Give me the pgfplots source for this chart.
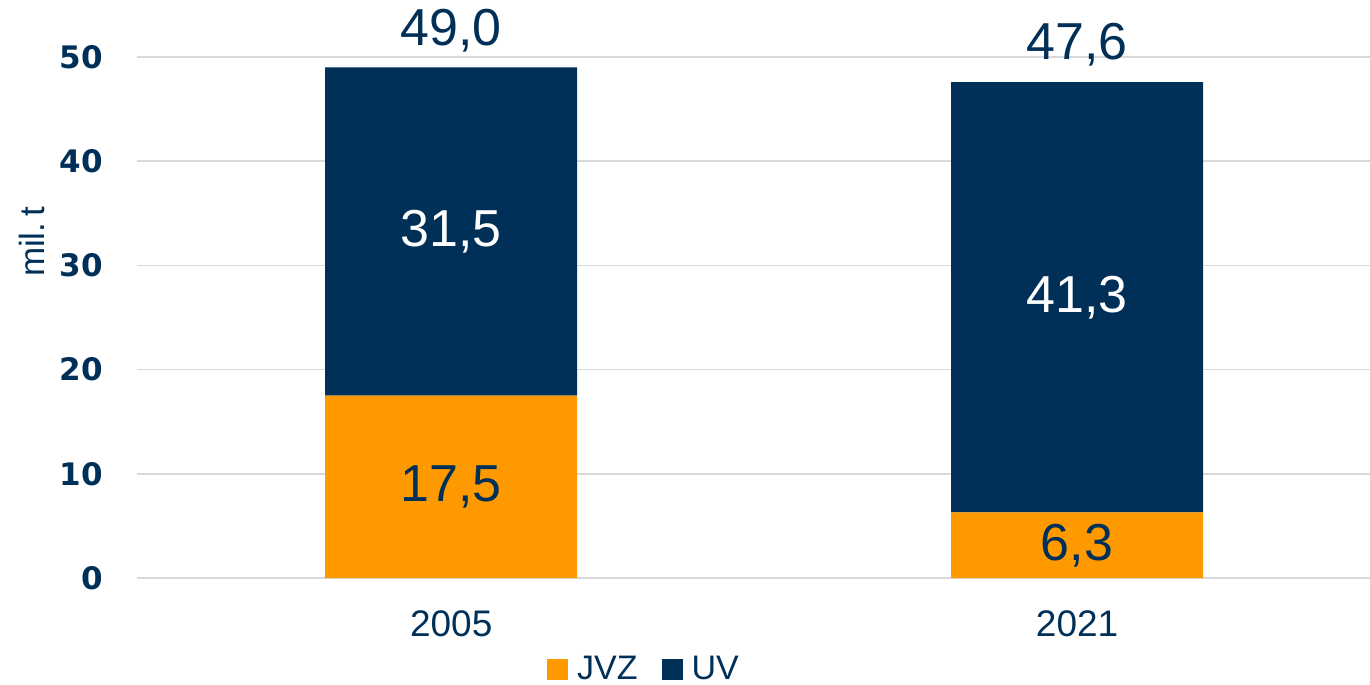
\documentclass[border=0pt]{standalone}
\usepackage{fontspec}
\setmainfont{Liberation Sans}
\newfontfamily\tickfont{DejaVu Sans}
\usepackage{pgfplots}
\pgfplotsset{compat=1.18}
\usepackage{pgfplotstable}
\definecolor{navy}{RGB}{0,48,87}
\definecolor{orng}{RGB}{255,153,0}
\definecolor{gridc}{RGB}{217,217,217}
\pgfplotstableread{
x jvz uv
0 17.5 31.5
1 6.3 41.3
}\data
\pgfplotsset{
 common/.style={
  scale only axis, width=616.5pt, height=260.5pt,
  xmin=-0.502, xmax=1.468, ymin=0, ymax=50,
  at={(0pt,0pt)}, anchor=south west, clip=false,
  /pgf/number format/assume math mode=true,
 },
 sq/.style={legend image code/.code={\fill[##1] (0pt,-5.25pt) rectangle (10.5pt,5.25pt); \path (13pt,0pt);}},
}
\begin{document}
\begin{tikzpicture}
\useasboundingbox (-68.5pt,-53.5pt) rectangle (616.5pt,289pt);
\begin{axis}[common,
  ybar stacked, bar width=126pt,
  axis line style={draw=none},
  major tick style={draw=none},
  ymajorgrids, grid style={gridc, line width=0.8pt},
  ytick={0,10,...,50},
  xtick={0,1}, xticklabels={2005,2021},
  yticklabel style={font=\tickfont\bfseries\fontsize{15.5}{16}\selectfont, text=navy, anchor=east, inner sep=0pt, xshift=-17pt},
  xticklabel style={font=\fontsize{18.5}{18.5}\selectfont, text=navy, anchor=center, inner sep=0pt, yshift=-23pt},
  ylabel={mil.\,t},
  ylabel style={at={(axis description cs:-0.085,0.645)}, anchor=center, font=\fontsize{17.5}{17.5}\selectfont, text=navy},
  legend style={at={(axis description cs:0.412,-0.175)}, anchor=center, draw=none, fill=none, legend columns=2, font=\fontsize{17}{17}\selectfont, text=navy, inner sep=0pt, /tikz/every even column/.append style={column sep=10pt}},
]
\addplot[fill=orng, draw=none, sq] table[x=x, y=jvz]{\data};
\addlegendentry{JVZ}
\addplot[fill=navy, draw=none, sq] table[x=x, y=uv]{\data};
\addlegendentry{UV}
\end{axis}
\begin{axis}[common, hide axis,
  nodes near coords={\pgfmathprintnumber[fixed,fixed zerofill,precision=1,use comma]{\pgfplotspointmeta}},
]
\addplot[draw=none, mark=none, point meta=explicit,
  nodes near coords style={anchor=center, text=navy, font=\fontsize{26}{26}\selectfont}]
  table[x=x, y expr=\thisrow{jvz}/2, meta=jvz]{\data};
\addplot[draw=none, mark=none, point meta=explicit,
  nodes near coords style={anchor=center, text=white, font=\fontsize{26}{26}\selectfont}]
  table[x=x, y expr=\thisrow{jvz}+\thisrow{uv}/2, meta=uv]{\data};
\addplot[draw=none, mark=none, point meta=y,
  nodes near coords style={anchor=center, text=navy, font=\fontsize{26}{26}\selectfont, yshift=18.5pt}]
  table[x=x, y expr=\thisrow{jvz}+\thisrow{uv}]{\data};
\end{axis}
\end{tikzpicture}
\end{document}
